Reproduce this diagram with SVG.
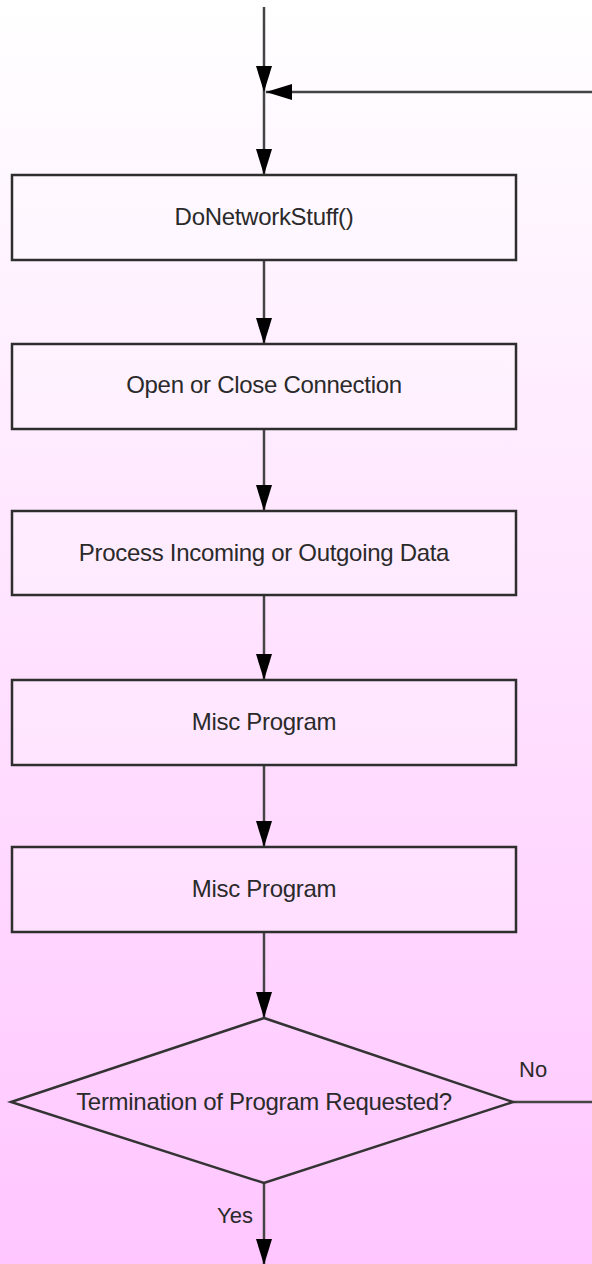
<svg xmlns="http://www.w3.org/2000/svg" width="592" height="1264" viewBox="0 0 592 1264">
  <defs>
    <linearGradient id="bg" x1="0" y1="0" x2="0" y2="1">
      <stop offset="0" stop-color="#ffffff"/>
      <stop offset="1" stop-color="#ffc6ff"/>
    </linearGradient>
    <marker id="arrow" viewBox="0 0 10 10" refX="10" refY="5" markerWidth="10" markerHeight="10" markerUnits="userSpaceOnUse" orient="auto">
      <path d="M0,0 L10,5 L0,10 Z" fill="#000"/>
    </marker>
    <marker id="head" viewBox="0 0 26 16" refX="26" refY="8" markerWidth="26" markerHeight="16" markerUnits="userSpaceOnUse" orient="auto">
      <path d="M0,0 L26,8 L0,16 Z" fill="#000"/>
    </marker>
  </defs>
  <style>
    .box { fill: #ffffff; fill-opacity: 0.25; stroke: #2e2e2e; stroke-width: 2.5; }
    .dec { fill: none; stroke: #333; stroke-width: 2.5; }
    .lbl { font-family: "Liberation Sans", Arial, sans-serif; font-size: 24px; fill: #2a2a2a; text-anchor: middle; letter-spacing: -0.3px; }
    .edge { font-family: "Liberation Sans", Arial, sans-serif; font-size: 22px; fill: #2a2a2a; }
    .conn { fill: none; stroke: #444; stroke-width: 2.5; }
  </style>

  <rect x="0" y="0" width="592" height="1264" fill="url(#bg)"/>

  <g id="connectors">
    <!-- entry line and loop-back join -->
    <line class="conn" x1="264" y1="7" x2="264" y2="92" marker-end="url(#head)"/>
    <line class="conn" x1="592" y1="92" x2="266" y2="92" marker-end="url(#head)"/>
    <line class="conn" x1="264" y1="92" x2="264" y2="175" marker-end="url(#head)"/>
    <!-- box to box -->
    <line class="conn" x1="264" y1="260" x2="264" y2="344" marker-end="url(#head)"/>
    <line class="conn" x1="264" y1="429" x2="264" y2="511" marker-end="url(#head)"/>
    <line class="conn" x1="264" y1="595" x2="264" y2="680" marker-end="url(#head)"/>
    <line class="conn" x1="264" y1="765" x2="264" y2="847" marker-end="url(#head)"/>
    <line class="conn" x1="264" y1="932" x2="264" y2="1018" marker-end="url(#head)"/>
    <!-- decision outputs -->
    <line class="conn" x1="513" y1="1102" x2="592" y2="1102"/>
    <line class="conn" x1="264" y1="1183" x2="264" y2="1265" marker-end="url(#head)"/>
    <text class="edge" x="519" y="1077">No</text>
    <text class="edge" x="253" y="1223" text-anchor="end">Yes</text>
  </g>

  <g id="do-network">
    <rect class="box" x="12" y="175" width="504" height="85"/>
    <text class="lbl" x="264" y="225">DoNetworkStuff()</text>
  </g>
  <g id="open-close">
    <rect class="box" x="12" y="344" width="504" height="85"/>
    <text class="lbl" x="264" y="393">Open or Close Connection</text>
  </g>
  <g id="process-data">
    <rect class="box" x="12" y="511" width="504" height="84"/>
    <text class="lbl" x="264" y="561">Process Incoming or Outgoing Data</text>
  </g>
  <g id="misc-1">
    <rect class="box" x="12" y="680" width="504" height="85"/>
    <text class="lbl" x="264" y="730">Misc Program</text>
  </g>
  <g id="misc-2">
    <rect class="box" x="12" y="847" width="504" height="85"/>
    <text class="lbl" x="264" y="897">Misc Program</text>
  </g>
  <g id="terminate-check">
    <polygon class="dec" points="264,1018 513,1102 264,1183 11,1102"/>
    <text class="lbl" x="264" y="1110">Termination of Program Requested?</text>
  </g>
</svg>
